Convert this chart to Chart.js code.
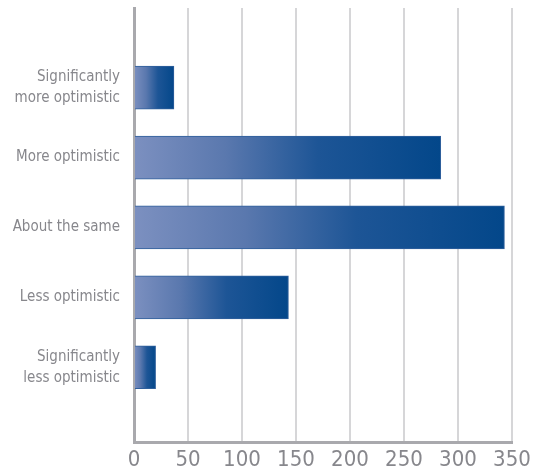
<!DOCTYPE html>
<html>
<head>
<meta charset="utf-8">
<script src="https://cdn.jsdelivr.net/npm/chart.js@4"></script>
<style>
  html, body { margin: 0; padding: 0; background: #fff; }
  #wrap { width: 543px; height: 468px; position: relative; }
</style>
</head>
<body>
<div id="wrap"><canvas id="outlook"></canvas></div>
<script>
// Survey responses, top to bottom
const categories = [
  ['Significantly', 'more optimistic'],
  'More optimistic',
  'About the same',
  'Less optimistic',
  ['Significantly', 'less optimistic']
];
const responses = [37, 284, 343, 143, 20];
const xTicks = [0, 50, 100, 150, 200, 250, 300, 350];

const FONT = "'Liberation Sans Narrow', 'DejaVu Sans Condensed', 'Roboto Condensed', sans-serif";
const LABEL_GREY = '#87878c';
const AXIS_GREY = '#a9a9ad';

// Each bar fades from a soft slate blue on the left into deep navy
function barGradient(ctx) {
  const chart = ctx.chart;
  const xs = chart.scales.x;
  if (!chart.chartArea || !xs || !ctx.parsed) return '#0a4a8c';
  const x0 = xs.getPixelForValue(0);
  const x1 = xs.getPixelForValue(ctx.parsed.x);
  const g = chart.ctx.createLinearGradient(x0, 0, Math.max(x1, x0 + 1), 0);
  g.addColorStop(0, '#7c90c0');
  g.addColorStop(0.3, '#5a78ae');
  g.addColorStop(0.6, '#1d5596');
  g.addColorStop(1, '#03478a');
  return g;
}

const ctx = document.getElementById('outlook').getContext('2d');
new Chart(ctx, {
  type: 'bar',
  data: {
    datasets: [{
      data: responses.map((v, i) => ({ x: v, y: i })),
      backgroundColor: barGradient,
      borderColor: '#2f5f9c',
      borderWidth: 1,
      barThickness: 43
    }]
  },
  options: {
    indexAxis: 'y',
    responsive: true,
    maintainAspectRatio: false,
    animation: false,
    layout: { padding: { top: 8, right: 31, bottom: 0, left: 0 } },
    scales: {
      x: {
        type: 'linear',
        min: 0,
        max: 350,
        afterBuildTicks: s => { s.ticks = xTicks.map(v => ({ value: v })); },
        afterFit: s => { s.height = 26; },
        grid: { color: '#d6d6d8', lineWidth: 2, drawTicks: false },
        border: { color: AXIS_GREY, width: 3 },
        ticks: {
          padding: 5,
          color: LABEL_GREY,
          font: { family: FONT, size: 22 }
        }
      },
      y: {
        // linear index axis so the bars can leave empty room above and below
        type: 'linear',
        reverse: true,
        offset: false,
        bounds: 'data',
        min: -1.14,
        max: 5.07,
        afterBuildTicks: s => { s.ticks = categories.map((c, i) => ({ value: i })); },
        afterFit: s => { s.width = 134; s.paddingTop = 0; s.paddingBottom = 0; },
        grid: { display: false, drawTicks: false },
        border: { color: AXIS_GREY, width: 3 },
        ticks: {
          padding: 14,
          color: LABEL_GREY,
          font: { family: FONT, size: 15, lineHeight: 1.4 },
          callback: v => categories[v] ?? ''
        }
      }
    },
    plugins: {
      legend: { display: false },
      tooltip: { enabled: false }
    }
  }
});
</script>
</body>
</html>
